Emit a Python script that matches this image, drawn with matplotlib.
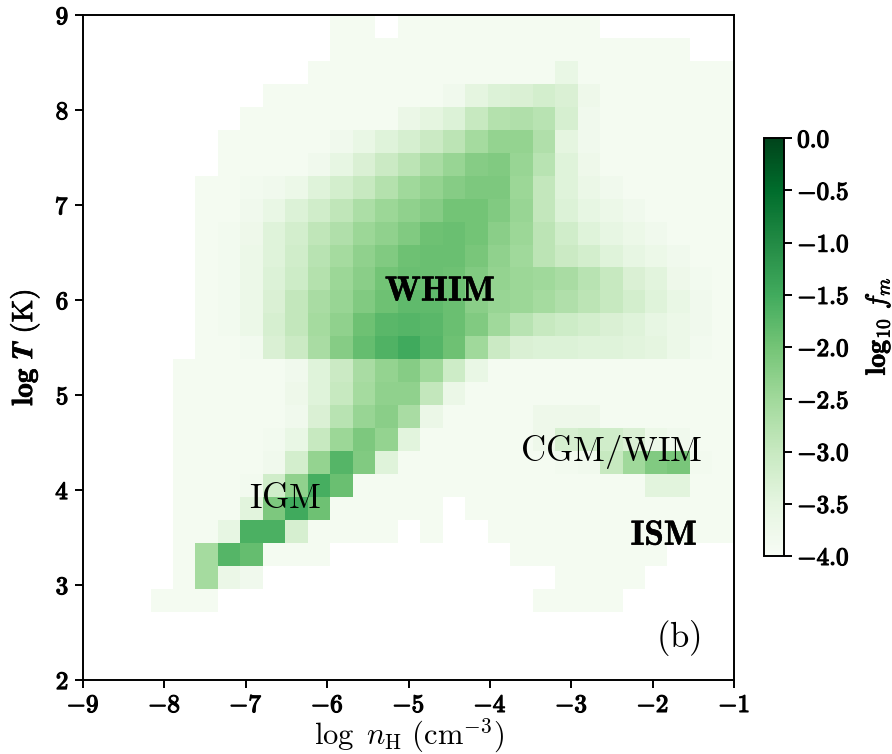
import numpy as np
import matplotlib
matplotlib.use('Agg')
import matplotlib.pyplot as plt
import matplotlib.patheffects as pe
from matplotlib.ticker import FixedLocator, FuncFormatter

plt.rcParams['mathtext.fontset'] = 'cm'
plt.rcParams['font.family'] = ['DejaVu Serif']

nan = np.nan
L = -3.9  # faintest occupied cells

# histogram bin layout (log n_H, log T)
x_range = (-8.17, -0.99)
y_range = (2.72, 9.0)
n_xbins = 26
n_ybins = 26

# log10 f_m per cell, rows from low T (bottom) to high T (top), columns low->high n_H
log_fm = [
    [L, L, L, nan, nan, nan, nan, nan, nan, nan, nan, nan, nan, nan, nan, nan, nan, L, L, L, L, nan, nan, nan, nan, nan],
    [nan, L, -2.55, -3.65, -3.8, nan, nan, nan, nan, nan, nan, nan, nan, nan, nan, nan, nan, nan, L, L, L, L, nan, nan, nan, nan],
    [nan, L, -2.55, -1.7, -1.85, L, L, L, nan, nan, nan, nan, nan, nan, nan, nan, L, L, L, L, L, L, L, nan, nan, nan],
    [nan, L, L, -3.55, -1.6, -1.6, -3.25, L, L, L, L, nan, L, nan, nan, L, L, L, L, L, L, L, L, L, L, L],
    [nan, L, L, L, -3.45, -2.1, -1.5, -1.95, L, L, L, L, L, nan, L, L, L, L, L, L, L, L, L, L, L, L],
    [nan, L, L, L, -3.85, -3.15, -2.3, -1.55, -1.9, L, L, L, L, L, L, L, L, L, L, L, L, L, -3.45, -3.45, L, L],
    [nan, L, L, L, L, -3.8, -3.2, -2.35, -1.7, -2.15, -3.4, L, L, L, L, L, L, L, -3.85, -3.8, -3.0, -2.5, -2.15, -2.05, -3.85, L],
    [nan, L, L, L, L, -3.85, -3.6, -3.0, -2.45, -2.1, -2.35, -3.45, L, L, L, L, L, -3.75, -3.25, -3.15, -3.15, -3.3, -3.7, -3.8, L, L],
    [nan, L, L, L, L, L, -3.8, -3.3, -2.8, -2.4, -2.25, -2.6, -3.65, L, L, L, L, -3.75, -3.75, -3.75, L, L, L, L, L, L],
    [nan, L, L, L, L, L, -3.75, -3.4, -3.0, -2.55, -2.3, -2.3, -2.95, -3.65, L, L, L, L, L, L, L, L, L, L, L, L],
    [nan, L, L, L, L, L, -3.8, -3.4, -3.05, -2.6, -2.35, -2.2, -2.5, -3.1, -3.6, L, L, L, L, L, L, L, L, L, L, L],
    [nan, nan, L, L, -3.85, -3.3, -3.05, -2.6, -2.2, -1.85, -1.65, -1.5, -1.7, -1.95, -2.5, -3.05, -3.3, -3.35, -3.35, -3.4, -3.4, -3.45, -3.5, -3.7, -3.85, L],
    [nan, nan, L, -3.85, -3.7, -3.25, -2.95, -2.55, -2.3, -1.95, -1.75, -1.7, -1.75, -1.9, -2.15, -2.5, -2.8, -3.0, -3.1, -3.2, -3.3, -3.4, -3.55, -3.7, -3.8, L],
    [nan, nan, L, -3.85, -3.7, -3.3, -2.95, -2.6, -2.4, -2.15, -1.95, -1.8, -1.8, -1.9, -2.25, -2.4, -2.45, -2.55, -2.7, -2.85, -3.0, -3.2, -3.4, -3.6, -3.8, L],
    [nan, nan, L, -3.85, -3.7, -3.35, -3.1, -2.75, -2.45, -2.25, -2.0, -1.9, -1.9, -1.95, -2.15, -2.35, -2.45, -2.5, -2.6, -2.8, -3.0, -3.3, -3.45, -3.75, -3.85, L],
    [nan, nan, L, -3.85, -3.7, -3.4, -3.15, -2.8, -2.55, -2.3, -2.15, -1.95, -1.9, -1.9, -2.05, -2.3, -2.5, -2.85, -3.05, -3.2, -3.4, -3.55, -3.7, -3.8, L, L],
    [nan, nan, L, -3.85, -3.75, -3.4, -3.2, -2.9, -2.7, -2.45, -2.3, -2.15, -1.95, -1.9, -2.0, -2.25, -2.45, -2.85, -3.15, -3.4, -3.55, -3.7, -3.8, L, L, L],
    [nan, nan, L, L, -3.8, -3.6, -3.35, -3.15, -2.9, -2.65, -2.45, -2.3, -2.2, -2.0, -2.0, -2.15, -2.4, -2.95, -3.35, -3.55, -3.7, -3.8, L, L, L, L],
    [nan, nan, L, L, -3.85, -3.8, -3.7, -3.4, -3.2, -3.0, -2.75, -2.5, -2.35, -2.2, -2.1, -2.1, -2.45, -2.95, -3.4, -3.65, -3.8, L, L, L, L, L],
    [nan, nan, nan, L, L, L, L, -3.8, -3.55, -3.3, -3.05, -2.85, -2.6, -2.4, -2.2, -2.15, -2.4, -2.8, -3.4, -3.75, L, L, L, L, L, L],
    [nan, nan, nan, L, L, L, L, L, -3.8, -3.6, -3.4, -3.25, -3.05, -2.85, -2.55, -2.35, -2.35, -2.7, -3.5, -3.8, L, L, L, L, L, L],
    [nan, nan, nan, nan, L, L, L, L, L, L, L, -3.65, -3.5, -3.35, -3.0, -2.75, -2.7, -2.8, -3.25, -3.8, L, L, L, L, L, L],
    [nan, nan, nan, nan, nan, L, L, L, L, L, L, L, L, -3.8, -3.5, -3.35, -3.3, -3.2, -3.3, -3.75, L, L, L, L, L, L],
    [nan, nan, nan, nan, nan, nan, nan, L, L, L, L, L, L, L, L, L, L, L, -3.6, L, L, L, L, L, L, L],
    [nan, nan, nan, nan, nan, nan, nan, nan, L, L, L, L, L, L, L, L, L, L, L, L, L, L, L, L, nan, nan],
    [nan, nan, nan, nan, nan, nan, nan, nan, L, L, nan, L, L, L, L, L, L, L, L, L, nan, nan, nan, nan, nan, nan],
]

x_ticks = [-9, -8, -7, -6, -5, -4, -3, -2, -1]
y_ticks = [2, 3, 4, 5, 6, 7, 8, 9]
cb_ticks = [-4.0, -3.5, -3.0, -2.5, -2.0, -1.5, -1.0, -0.5, 0.0]

labels = ['WHIM', 'IGM', 'CGM/WIM', 'ISM']
label_x = [-4.61, -6.51, -2.51, -1.86]
label_y = [6.10, 3.92, 4.40, 3.53]
label_bold = [True, False, False, True]

x_edges = np.linspace(x_range[0], x_range[1], n_xbins + 1)
y_edges = np.linspace(y_range[0], y_range[1], n_ybins + 1)
Z = np.ma.masked_invalid(np.array(log_fm, dtype=float))

fig = plt.figure(figsize=(8.92, 7.54), dpi=100)
ax = fig.add_axes([0.093, 0.098, 0.730, 0.882])
cax = fig.add_axes([0.8565, 0.2626, 0.0224, 0.554])

mesh = ax.pcolormesh(x_edges, y_edges, Z, cmap='Greens', vmin=-4, vmax=0,
                     shading='flat', edgecolors='face', linewidth=0.0)
ax.set_xlim(-9, -1)
ax.set_ylim(2, 9)

bold_fx = [pe.withStroke(linewidth=0.9, foreground='black')]

def bold_fmt(v, pos=None, decimals=0):
    s = f'{v:.{decimals}f}'
    return r'$\mathbf{' + s + '}$'

ax.xaxis.set_major_locator(FixedLocator(x_ticks))
ax.yaxis.set_major_locator(FixedLocator(y_ticks))
ax.xaxis.set_major_formatter(FuncFormatter(lambda v, p: bold_fmt(v, p, 0)))
ax.yaxis.set_major_formatter(FuncFormatter(lambda v, p: bold_fmt(v, p, 0)))
ax.tick_params(axis='both', direction='out', length=6, width=1.4, labelsize=18, pad=4)
for sp in ax.spines.values():
    sp.set_linewidth(1.4)

ax.set_xlabel(r'$\log\ n_{\mathrm{H}}\ (\mathrm{cm}^{-3})$', fontsize=22, labelpad=0)
ax.set_ylabel(r'$\mathbf{log}\ \boldsymbol{T}\ \mathrm{(K)}$', fontsize=21, labelpad=10)

for t, x, y, b in zip(labels, label_x, label_y, label_bold):
    s = r'$\mathbf{' + t + '}$' if b else r'$\mathrm{' + t + '}$'
    txt = ax.text(x, y, s, fontsize=25, ha='center', va='center', color='black')
    if b:
        txt.set_path_effects([pe.withStroke(linewidth=0.4, foreground='black')])
ax.text(-1.69, 2.44, r'$\mathrm{(b)}$', fontsize=25, ha='center', va='center')

cb = fig.colorbar(mesh, cax=cax, ticks=cb_ticks)
cb.ax.yaxis.set_major_formatter(FuncFormatter(lambda v, p: bold_fmt(v, p, 1)))
cb.ax.tick_params(direction='out', length=6, width=1.4, labelsize=18)
cb.outline.set_linewidth(1.4)
cb.set_label(r'$\mathbf{log_{10}}\ \boldsymbol{f_m}$', fontsize=20)
cb.ax.yaxis.set_label_coords(4.95, 0.55)

fig.canvas.draw()
for lab in ax.get_xticklabels() + ax.get_yticklabels() + cb.ax.get_yticklabels():
    lab.set_path_effects(bold_fx)
ax.yaxis.label.set_path_effects([pe.withStroke(linewidth=0.5, foreground='black')])
cb.ax.yaxis.label.set_path_effects([pe.withStroke(linewidth=0.5, foreground='black')])

fig.savefig('out.png', dpi=100)
